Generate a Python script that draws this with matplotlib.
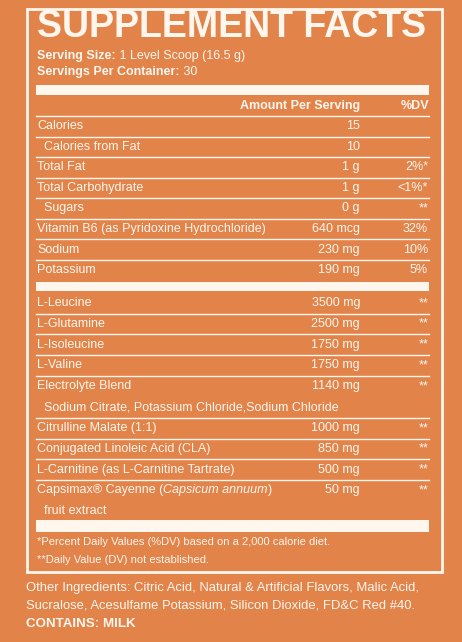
import matplotlib
matplotlib.use("Agg")
import matplotlib.pyplot as plt

BG = "#E2834A"
FG = "#FFF6EE"
FAM = ["Liberation Sans", "DejaVu Sans"]

names = ["Calories", "  Calories from Fat", "Total Fat", "Total Carbohydrate", "  Sugars",
         "Vitamin B6 (as Pyridoxine Hydrochloride)", "Sodium", "Potassium"]
amounts = ["15", "10", "1 g", "1 g", "0 g", "640 mcg", "230 mg", "190 mg"]
dvs = ["", "", "2%*", "<1%*", "**", "32%", "10%", "5%"]

names2 = ["L-Leucine", "L-Glutamine", "L-Isoleucine", "L-Valine", "Electrolyte Blend",
          "Citrulline Malate (1:1)", "Conjugated Linoleic Acid (CLA)",
          "L-Carnitine (as L-Carnitine Tartrate)", "Capsimax\u00ae Cayenne ("]
amounts2 = ["3500 mg", "2500 mg", "1750 mg", "1750 mg", "1140 mg", "1000 mg", "850 mg", "500 mg", "50 mg"]
dvs2 = ["**"] * 9
subs2 = {4: "  Sodium Citrate, Potassium Chloride,Sodium Chloride", 8: "  fruit extract"}

fig = plt.figure(figsize=(4.62, 6.42), dpi=100, facecolor=BG)
ax = fig.add_axes([0, 0, 1, 1])
ax.set_xlim(0, 462); ax.set_ylim(642, 0); ax.axis("off")

L, R, AR = 37, 429, 360
fs = 9.0

def after(prev, s, **kw):
    return ax.annotate(s, xy=(1, 0.5), xycoords=prev, va="center", ha="left",
                       color=FG, fontsize=fs, family=FAM, **kw)

ax.add_patch(plt.Rectangle((27, 9), 415, 563, fill=False, ec=FG, lw=2))
ax.text(L, 27, "SUPPLEMENT FACTS", color=FG, fontsize=27, fontweight="bold",
        family=FAM, va="center", ha="left")
t = ax.text(L, 56, "Serving Size:", color=FG, fontsize=fs, fontweight="bold", family=FAM, va="center")
after(t, " 1 Level Scoop (16.5 g)")
t = ax.text(L, 72, "Servings Per Container:", color=FG, fontsize=fs, fontweight="bold", family=FAM, va="center")
after(t, " 30")

def bar(y0, y1):
    ax.add_patch(plt.Rectangle((L - 1, y0), R - L + 1, y1 - y0, color=FG, lw=0))

def hline(y):
    ax.plot([L - 1, R], [y, y], color=FG, lw=1)

bar(85, 95)
ax.text(AR, 106, "Amount Per Serving", color=FG, fontsize=fs, fontweight="bold", family=FAM, va="center", ha="right")
ax.text(R, 106, "%DV", color=FG, fontsize=fs, fontweight="bold", family=FAM, va="center", ha="right")
hline(116)

def row(y, n, a, d):
    t = ax.text(L, y, n, color=FG, fontsize=fs, family=FAM, va="center")
    ax.text(AR, y, a, color=FG, fontsize=fs, family=FAM, va="center", ha="right")
    ax.text(R - 1, y, d, color=FG, fontsize=fs, family=FAM, va="center", ha="right")
    return t

y = 126
for n, a, d in zip(names, amounts, dvs):
    row(y, n, a, d)
    if n != names[-1]:
        hline(y + 10.5)
    y += 20.6

bar(282, 291)
y = 303
for i, (n, a, d) in enumerate(zip(names2, amounts2, dvs2)):
    t = row(y, n, a, d)
    if i == len(names2) - 1:
        t2 = after(t, "Capsicum annuum", style="italic")
        after(t2, ")")
    if i in subs2:
        y += 21
        ax.text(L, y, subs2[i], color=FG, fontsize=fs, family=FAM, va="center")
    if i != len(names2) - 1:
        hline(y + 10.5)
    y += 20.8

bar(520, 532)
ax.text(L, 542, "*Percent Daily Values (%DV) based on a 2,000 calorie diet.", color=FG, fontsize=8.0, family=FAM, va="center")
ax.text(L, 560, "**Daily Value (DV) not established.", color=FG, fontsize=8.0, family=FAM, va="center")

ax.text(26, 588, "Other Ingredients: Citric Acid, Natural & Artificial Flavors, Malic Acid,", color=FG, fontsize=9.4, family=FAM, va="center")
ax.text(26, 605, "Sucralose, Acesulfame Potassium, Silicon Dioxide, FD&C Red #40.", color=FG, fontsize=9.4, family=FAM, va="center")
ax.text(26, 624, "CONTAINS: MILK", color=FG, fontsize=9.6, fontweight="bold", family=FAM, va="center")

fig.savefig("out.png", dpi=100, facecolor=BG)
